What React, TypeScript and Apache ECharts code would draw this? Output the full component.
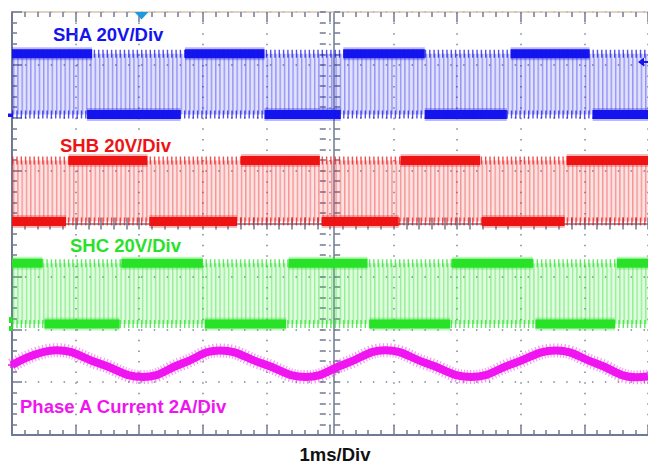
import React, { useEffect, useRef } from 'react';
import * as echarts from 'echarts';

// ---- scope settings ----
const timeStartMs = 0;
const timeEndMs = 10; // 10 divisions, 1 ms/div
const msPerDiv = 1;
const voltsPerDiv = 20;
const ampsPerDiv = 2;
const switchAmplitudeV = 23; // switch-node swing (V)

// ---- switch node channels ----
const channelLabels = ['SHA 20V/Div', 'SHB 20V/Div', 'SHC 20V/Div'];
const channelGroundDiv = [2.06, 0.04, -1.9]; // scope offset of each trace (div)

// intervals (ms) where the switch node sits mostly high / mostly low
const shaHighSegments = [[0, 1.26], [2.72, 3.97], [5.21, 6.49], [7.84, 9.08]];
const shaLowSegments = [[1.18, 2.65], [3.97, 5.17], [6.49, 7.78], [9.13, 10]];
const shbHighSegments = [[0.89, 2.13], [3.6, 4.84], [6.11, 7.36], [8.72, 10]];
const shbLowSegments = [[0, 0.85], [2.16, 3.54], [4.87, 6.08], [7.39, 8.69]];
const shcHighSegments = [[0, 0.48], [1.72, 3.0], [4.35, 5.59], [6.92, 8.19], [9.51, 10]];
const shcLowSegments = [[0.51, 1.69], [3.03, 4.31], [5.62, 6.89], [8.23, 9.48]];

// ---- phase A current ----
const currentLabel = 'Phase A Current 2A/Div';
const currentOffsetDiv = -2.65;
const currentTimeMs = [0, 0.7, 1.38, 2.06, 2.67, 3.27, 3.94, 4.62, 5.25, 5.87, 6.53, 7.22, 7.88, 8.55, 9.19, 9.82, 10];
const currentAmps = [-0.06, 0.51, 0, -0.51, 0, 0.5, 0, -0.51, 0, 0.51, 0, -0.51, 0, 0.5, 0, -0.52, -0.49];

const timeBaseLabel = '1ms/Div';

// ---- styles ----
const FONT = 'bold 18.5px "Liberation Sans", Arial, Helvetica, sans-serif';
const AXIS = '#6f7a92';
const DOT = '#7c869c';
const TOP_BORDER = '#d6c4b2';
const chColors = [
  { dark: '#1414ee', fg: '#1414ee', fgOp: 0.38, bgOp: 0.13 },
  { dark: '#ee1414', fg: '#ee1414', fgOp: 0.38, bgOp: 0.12 },
  { dark: '#28e228', fg: '#28e228', fgOp: 0.42, bgOp: 0.14 },
];
const CURRENT_COLOR = '#f014f0';

const GRID_LEFT = 12;
const GRID_TOP = 12;
const DIV_X = 64.44;
const DIV_Y = 52.875;

function stripePattern(color: string, fgOp: number, bgOp: number) {
  const svg =
    `<svg xmlns='http://www.w3.org/2000/svg' width='4.3' height='10'>` +
    `<rect width='4.3' height='10' fill='${color}' fill-opacity='${bgOp}'/>` +
    `<rect width='1.4' height='10' fill='${color}' fill-opacity='${fgOp}'/></svg>`;
  return {
    image: 'data:image/svg+xml;charset=utf-8,' + encodeURIComponent(svg),
    repeat: 'repeat',
    imageWidth: 4.3,
    imageHeight: 10,
    x: GRID_LEFT,
  } as any;
}

function segmentSeries(segs: number[][], level: number, color: string) {
  return {
    type: 'custom',
    xAxisIndex: 0,
    yAxisIndex: 0,
    silent: true,
    data: segs.map(([s, e]) => [s, e, level]),
    encode: { x: [0, 1], y: 2 },
    renderItem: (_p: any, api: any) => {
      const p0 = api.coord([api.value(0), api.value(2)]);
      const p1 = api.coord([api.value(1), api.value(2)]);
      const w = p1[0] - p0[0];
      return {
        type: 'group',
        children: [
          {
            type: 'rect',
            shape: { x: p0[0], y: p0[1] - 6.5, width: w, height: 13 },
            style: { fill: color, opacity: 0.3 },
          },
          {
            type: 'rect',
            shape: { x: p0[0], y: p0[1] - 4.5, width: w, height: 9 },
            style: { fill: color },
          },
        ],
      };
    },
  };
}

function buildOption() {
  const segHigh = [shaHighSegments, shbHighSegments, shcHighSegments];
  const segLow = [shaLowSegments, shbLowSegments, shcLowSegments];
  const series: any[] = [];
  channelGroundDiv.forEach((g, i) => {
    const low = g;
    const high = g + switchAmplitudeV / voltsPerDiv;
    const c = chColors[i];
    // switching band
    series.push({
      type: 'line',
      silent: true,
      symbol: 'none',
      data: [[timeStartMs, high], [timeEndMs, high]],
      lineStyle: { opacity: 0 },
      areaStyle: { origin: low, color: stripePattern(c.fg, c.fgOp, c.bgOp), opacity: 1 },
    });
    // edge ticks of every switching pulse
    [high, low].forEach((lvl) => {
      series.push({
        type: 'line',
        silent: true,
        symbol: 'none',
        data: [[timeStartMs, lvl], [timeEndMs, lvl]],
        lineStyle: { color: c.dark, width: 8, type: [1.4, 2.9], dashOffset: 0, opacity: 0.75 },
      });
    });
    series.push(segmentSeries(segHigh[i], high, c.dark));
    series.push(segmentSeries(segLow[i], low, c.dark));
  });
  const currentData = currentTimeMs.map((t, k) => [t, currentOffsetDiv + currentAmps[k] / ampsPerDiv]);
  series.push({
    type: 'line',
    silent: true,
    symbol: 'none',
    smooth: 0.45,
    data: currentData,
    lineStyle: { color: CURRENT_COLOR, width: 14, type: [1.2, 2.2], opacity: 0.45 },
  });
  series.push({
    type: 'line',
    silent: true,
    symbol: 'none',
    smooth: 0.45,
    data: currentData,
    lineStyle: { color: CURRENT_COLOR, width: 8 },
  });

  const xBase = {
    type: 'value',
    min: timeStartMs,
    max: timeEndMs,
    interval: msPerDiv,
    gridIndex: 0,
    axisLabel: { show: false },
  };
  const yBase = {
    type: 'value',
    min: -4,
    max: 4,
    interval: 1,
    gridIndex: 0,
    axisLabel: { show: false },
  };
  const tick = (len: number) => ({ show: true, inside: true, length: len, lineStyle: { color: AXIS, width: 1.5 } });
  const minor = (len: number) => ({ show: true, splitNumber: 5, length: len, lineStyle: { color: AXIS, width: 1.5 } });

  return {
    animation: false,
    backgroundColor: '#ffffff',
    grid: { left: GRID_LEFT, top: GRID_TOP, width: DIV_X * 10, height: DIV_Y * 8, show: false },
    xAxis: [
      {
        ...xBase,
        position: 'bottom',
        axisLine: { show: true, onZero: false, lineStyle: { color: AXIS, width: 2 } },
        axisTick: tick(10),
        minorTick: minor(5),
        splitLine: { show: true, lineStyle: { color: DOT, width: 1.5, type: [1.5, DIV_Y / 5 - 1.5] } },
      },
      {
        ...xBase,
        position: 'top',
        axisLine: { show: true, onZero: false, lineStyle: { color: TOP_BORDER, width: 1.5 } },
        axisTick: tick(10),
        minorTick: minor(5),
        splitLine: { show: false },
      },
      {
        ...xBase,
        position: 'bottom',
        offset: -DIV_Y * 4,
        axisLine: { show: true, onZero: false, lineStyle: { color: AXIS, width: 1.5 } },
        axisTick: tick(6),
        minorTick: minor(6),
        splitLine: { show: false },
      },
      {
        ...xBase,
        position: 'top',
        offset: -DIV_Y * 4,
        axisLine: { show: false, onZero: false },
        axisTick: tick(6),
        minorTick: minor(6),
        splitLine: { show: false },
      },
    ],
    yAxis: [
      {
        ...yBase,
        position: 'left',
        axisLine: { show: true, onZero: false, lineStyle: { color: AXIS, width: 2 } },
        axisTick: tick(10),
        minorTick: minor(5),
        splitLine: { show: true, lineStyle: { color: DOT, width: 1.5, type: [1.5, DIV_X / 5 - 1.5] } },
      },
      {
        ...yBase,
        position: 'left',
        offset: -DIV_X * 5,
        axisLine: { show: true, onZero: false, lineStyle: { color: AXIS, width: 1.5 } },
        axisTick: tick(6),
        minorTick: minor(6),
        splitLine: { show: false },
      },
      {
        ...yBase,
        position: 'right',
        offset: -DIV_X * 5,
        axisLine: { show: false, onZero: false },
        axisTick: tick(6),
        minorTick: minor(6),
        splitLine: { show: false },
      },
    ],
    series,
    graphic: [
      { type: 'text', x: 53, y: 34, style: { text: channelLabels[0], font: FONT, fill: chColors[0].dark, verticalAlign: 'middle' } },
      { type: 'text', x: 60, y: 145, style: { text: channelLabels[1], font: FONT, fill: chColors[1].dark, verticalAlign: 'middle' } },
      { type: 'text', x: 70, y: 245, style: { text: channelLabels[2], font: FONT, fill: chColors[2].dark, verticalAlign: 'middle' } },
      { type: 'text', x: 20, y: 406, style: { text: currentLabel, font: FONT, fill: CURRENT_COLOR, verticalAlign: 'middle' } },
      { type: 'text', x: 335, y: 454, style: { text: timeBaseLabel, font: FONT, fill: '#111111', align: 'center', verticalAlign: 'middle' } },
      // trigger position marker
      { type: 'polygon', z: 100, shape: { points: [[134.5, 12], [148.5, 12], [141.5, 19.5]] }, style: { fill: '#1f98dc' } },
      // trigger level arrow
      { type: 'polygon', z: 100, shape: { points: [[638, 62], [644, 57.5], [644, 66.5]] }, style: { fill: '#1414ee' } },
      { type: 'line', z: 100, shape: { x1: 642, y1: 62, x2: 648, y2: 62 }, style: { stroke: '#1414ee', lineWidth: 2 } },
      // ground markers
      { type: 'rect', z: 100, shape: { x: 8, y: 113.5, width: 5, height: 3.5 }, style: { fill: '#1414ee' } },
      { type: 'rect', z: 100, shape: { x: 9, y: 317, width: 3.5, height: 6 }, style: { fill: '#28e228' } },
      { type: 'rect', z: 100, shape: { x: 9, y: 326, width: 3.5, height: 5 }, style: { fill: '#28e228' } },
      { type: 'line', z: 100, shape: { x1: 8, y1: 365, x2: 15, y2: 365 }, style: { stroke: CURRENT_COLOR, lineWidth: 1.5 } },
      { type: 'line', z: 100, shape: { x1: 11, y1: 362, x2: 11, y2: 368 }, style: { stroke: CURRENT_COLOR, lineWidth: 1.5 } },
    ],
  };
}

export default function App() {
  const ref = useRef<HTMLDivElement>(null);
  useEffect(() => {
    const chart = echarts.init(ref.current!, null, { renderer: 'svg' });
    chart.setOption(buildOption() as any);
    return () => chart.dispose();
  }, []);
  return (
    <div
      ref={ref}
      style={{ position: 'fixed', left: 0, top: 0, width: 648, height: 468, background: '#ffffff' }}
    />
  );
}
